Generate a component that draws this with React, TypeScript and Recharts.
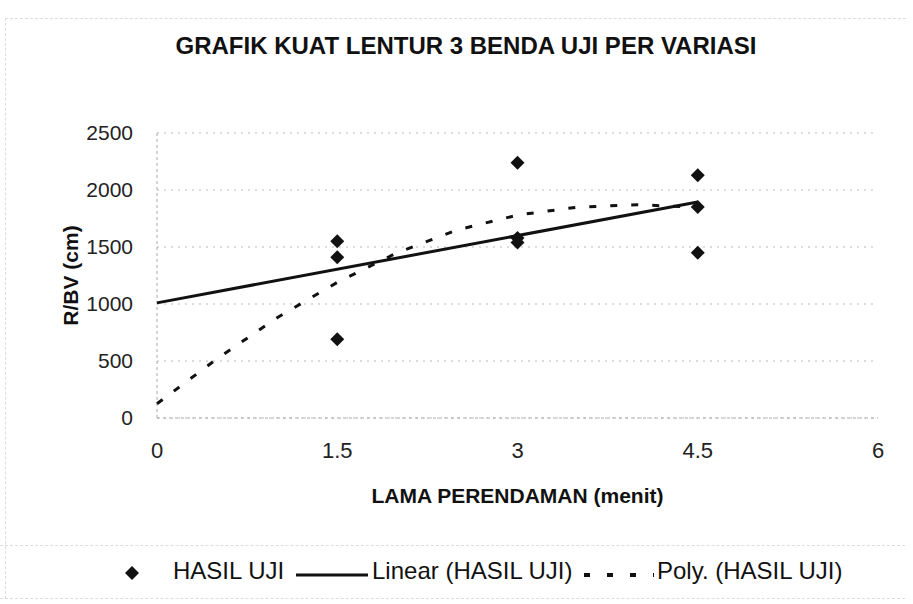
import React from "react";
import {
  ComposedChart,
  Scatter,
  XAxis,
  YAxis,
  CartesianGrid,
} from "recharts";

// test results, 3 specimens per soaking time
const hasilUji = [
  { x: 1.5, y: 1550 },
  { x: 1.5, y: 1410 },
  { x: 1.5, y: 690 },
  { x: 3, y: 2240 },
  { x: 3, y: 1580 },
  { x: 3, y: 1540 },
  { x: 4.5, y: 2130 },
  { x: 4.5, y: 1850 },
  { x: 4.5, y: 1450 },
];

// trend lines
const linearTrend = [
  { x: 0, y: 1010 },
  { x: 4.5, y: 1895 },
];

const polyTrend = [
  { x: 0, y: 125 },
  { x: 0.5, y: 520 },
  { x: 1, y: 880 },
  { x: 1.5, y: 1190 },
  { x: 2, y: 1450 },
  { x: 2.5, y: 1650 },
  { x: 3, y: 1780 },
  { x: 3.5, y: 1850 },
  { x: 4, y: 1870 },
  { x: 4.5, y: 1850 },
];

const xTicks = [0, 1.5, 3, 4.5, 6];
const yTicks = [0, 500, 1000, 1500, 2000, 2500];

const FONT = "'Liberation Sans', Arial, sans-serif";

const Diamond = (props: any) => {
  const { cx, cy } = props;
  if (cx == null || cy == null) return null;
  const r = 7;
  return (
    <polygon
      points={`${cx},${cy - r} ${cx + r},${cy} ${cx},${cy + r} ${cx - r},${cy}`}
      fill="#111"
    />
  );
};

const NoDot = () => null;

const legendText: React.CSSProperties = {
  position: "absolute",
  top: 557,
  fontSize: 24,
  color: "#111",
  whiteSpace: "nowrap",
  lineHeight: "28px",
};

export default function App() {
  return (
    <div
      style={{
        position: "absolute",
        left: 0,
        top: 0,
        width: 913,
        height: 604,
        background: "#fff",
        fontFamily: FONT,
        overflow: "hidden",
      }}
    >
      {/* faint frame of the scanned chart */}
      <div
        style={{
          position: "absolute",
          left: 5,
          top: 18,
          width: 900,
          height: 580,
          border: "1px dashed #ddd",
          borderRight: "none",
          borderBottom: "none",
        }}
      />
      <div
        style={{
          position: "absolute",
          left: 0,
          top: 32,
          width: 932,
          textAlign: "center",
          fontSize: 24,
          fontWeight: 700,
          color: "#111",
          lineHeight: "28px",
        }}
      >
        GRAFIK KUAT LENTUR 3 BENDA UJI PER VARIASI
      </div>

      <div style={{ position: "absolute", left: 0, top: 0 }}>
        <ComposedChart
          width={913}
          height={604}
          margin={{ top: 133, right: 35, bottom: 156, left: 97 }}
        >
          <CartesianGrid
            vertical={false}
            stroke="#bbb"
            strokeDasharray="2 5"
          />
          <XAxis
            type="number"
            dataKey="x"
            domain={[0, 6]}
            ticks={xTicks}
            height={30}
            tickSize={0}
            tickMargin={24}
            axisLine={{ stroke: "#aaa", strokeDasharray: "3 3" }}
            tickLine={false}
            tick={{ fontSize: 22, fill: "#222", fontFamily: FONT }}
            label={{
              value: "LAMA PERENDAMAN (menit)",
              position: "bottom",
              offset: 40,
              style: { fontSize: 21, fontWeight: 700, fill: "#111", fontFamily: FONT },
            }}
          />
          <YAxis
            type="number"
            dataKey="y"
            domain={[0, 2500]}
            ticks={yTicks}
            width={60}
            tickSize={0}
            tickMargin={24}
            axisLine={{ stroke: "#aaa", strokeDasharray: "3 3" }}
            tickLine={false}
            tick={{ fontSize: 21, fill: "#222", fontFamily: FONT }}
            label={{
              value: "R/BV (cm)",
              angle: -90,
              position: "insideLeft",
              offset: -26,
              style: {
                fontSize: 21,
                fontWeight: 700,
                fill: "#111",
                fontFamily: FONT,
                textAnchor: "middle",
              },
            }}
          />
          <Scatter
            data={linearTrend}
            line={{ stroke: "#111", strokeWidth: 3 }}
            shape={NoDot}
            isAnimationActive={false}
          />
          <Scatter
            data={polyTrend}
            line={{ stroke: "#111", strokeWidth: 3, strokeDasharray: "7 14" }}
            lineType="joint"
            shape={NoDot}
            isAnimationActive={false}
          />
          <Scatter
            data={hasilUji}
            shape={Diamond}
            isAnimationActive={false}
          />
        </ComposedChart>
      </div>

      {/* legend */}
      <div
        style={{
          position: "absolute",
          left: 0,
          top: 545,
          width: 905,
          height: 52,
          borderTop: "1px dashed #ddd",
          borderBottom: "1px dashed #ddd",
        }}
      />
      <svg
        width={913}
        height={40}
        style={{ position: "absolute", left: 0, top: 555 }}
      >
        <polygon points="132,11 139,18 132,25 125,18" fill="#111" />
        <line x1={296} y1={20} x2={368} y2={20} stroke="#111" strokeWidth={3} />
        <line
          x1={584}
          y1={20}
          x2={654}
          y2={20}
          stroke="#111"
          strokeWidth={4}
          strokeDasharray="6 17"
        />
      </svg>
      <span style={{ ...legendText, left: 173 }}>HASIL UJI</span>
      <span style={{ ...legendText, left: 372 }}>Linear (HASIL UJI)</span>
      <span style={{ ...legendText, left: 657 }}>Poly. (HASIL UJI)</span>
    </div>
  );
}
